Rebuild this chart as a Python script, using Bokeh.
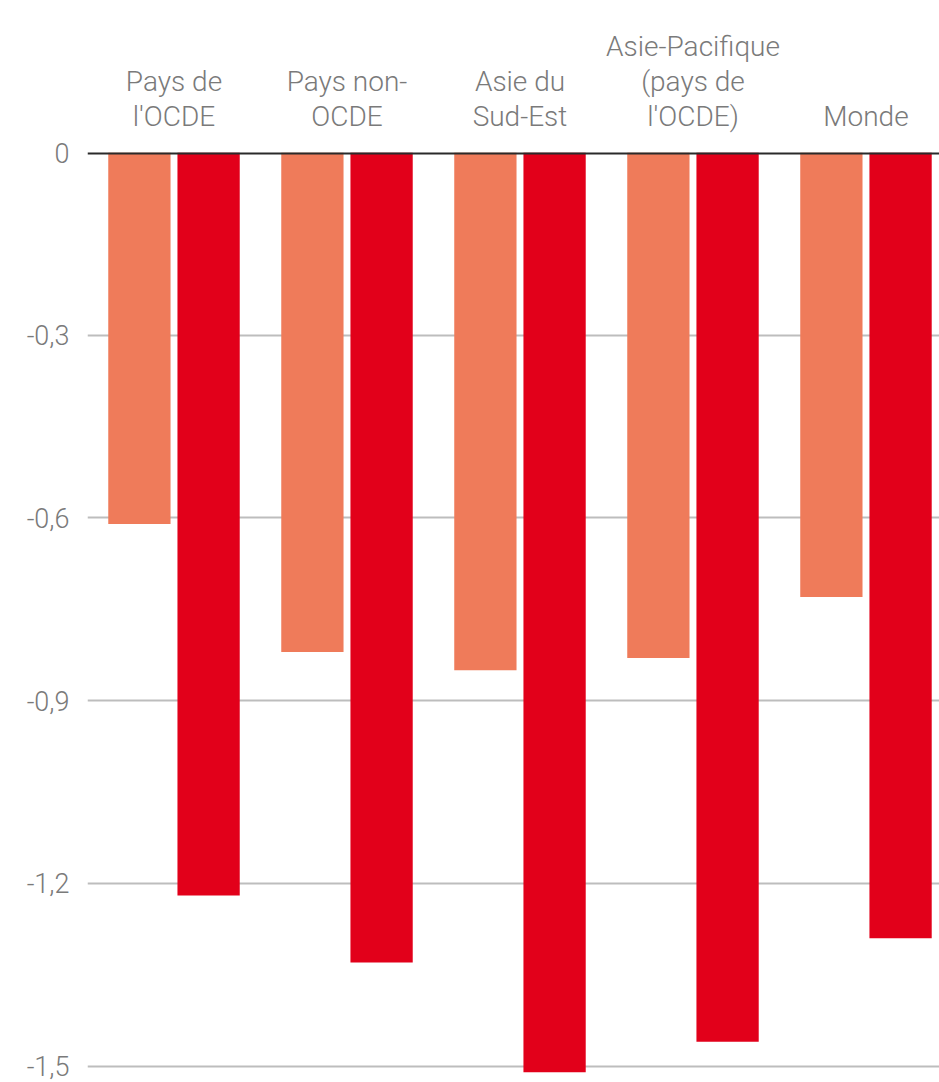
from bokeh.plotting import figure
from bokeh.models import Range1d, FixedTicker, CustomJSTickFormatter, Span, ColumnDataSource, LinearAxis
from bokeh.embed import file_html
from bokeh.resources import INLINE

categories = ["Pays de\nl'OCDE", "Pays non-\nOCDE", "Asie du\nSud-Est", "Asie-Pacifique\n(pays de\nl'OCDE)", "Monde"]
serie_a = [-0.61, -0.82, -0.85, -0.83, -0.73]
serie_b = [-1.22, -1.33, -1.51, -1.46, -1.29]
y_ticks = [0, -0.3, -0.6, -0.9, -1.2, -1.5]

LIGHT = "#EF7B5A"
DARK = "#E2001A"
TEXT = "#7a7a7a"
FONT = "Roboto Light, Roboto"

centers = [i + 0.5 for i in range(len(categories))]

p = figure(width=939, height=1082,
           x_range=Range1d(0, 4.925), y_range=Range1d(-1.527, 0),
           output_backend="svg", toolbar_location=None,
           x_axis_location="above",
           min_border_left=87, min_border_right=0, min_border_top=152, min_border_bottom=0)
p.outline_line_color = None
p.background_fill_color = "white"

src_a = ColumnDataSource(dict(x=[c - 0.2 for c in centers], v=serie_a))
src_b = ColumnDataSource(dict(x=[c + 0.2 for c in centers], v=serie_b))
p.vbar(x="x", top=0, bottom="v", width=0.36, source=src_a, fill_color=LIGHT, line_color=None)
p.vbar(x="x", top=0, bottom="v", width=0.36, source=src_b, fill_color=DARK, line_color=None)

p.add_layout(Span(location=0, dimension="width", line_color="#2a2a2a", line_width=4))

# category labels: one stacked axis per text line (level 0 = closest to the plot)
split = [c.split("\n") for c in categories]
n_levels = max(len(s) for s in split)


def style_x(ax, level):
    ax.ticker = FixedTicker(ticks=centers)
    ax.major_label_overrides = {
        c: (s[len(s) - 1 - level] if len(s) > level else " ") for c, s in zip(centers, split)
    }
    ax.axis_line_color = None
    ax.major_tick_line_color = None
    ax.minor_tick_line_color = None
    ax.major_label_text_font = FONT
    ax.major_label_text_font_size = "28px"
    ax.major_label_text_color = TEXT
    ax.major_label_standoff = 14 if level == 0 else -7
    ax.major_label_orientation = "horizontal"


style_x(p.xaxis[0], 0)
for lvl in range(1, n_levels):
    ax = LinearAxis()
    style_x(ax, lvl)
    p.add_layout(ax, "above")

# y axis
ya = p.yaxis[0]
ya.ticker = FixedTicker(ticks=y_ticks)
ya.formatter = CustomJSTickFormatter(code="""
    if (Math.abs(tick) < 1e-9) { return "0"; }
    return tick.toFixed(1).replace(".", ",");
""")
ya.axis_line_color = None
ya.major_tick_line_color = None
ya.minor_tick_line_color = None
ya.major_label_text_font = FONT
ya.major_label_text_font_size = "27px"
ya.major_label_text_color = TEXT
ya.major_label_standoff = 12

p.xgrid.grid_line_color = None
p.ygrid.ticker = FixedTicker(ticks=y_ticks)
p.ygrid.grid_line_color = "#bdbdbd"
p.ygrid.grid_line_width = 2

open("out.html", "w").write(file_html(p, INLINE))
